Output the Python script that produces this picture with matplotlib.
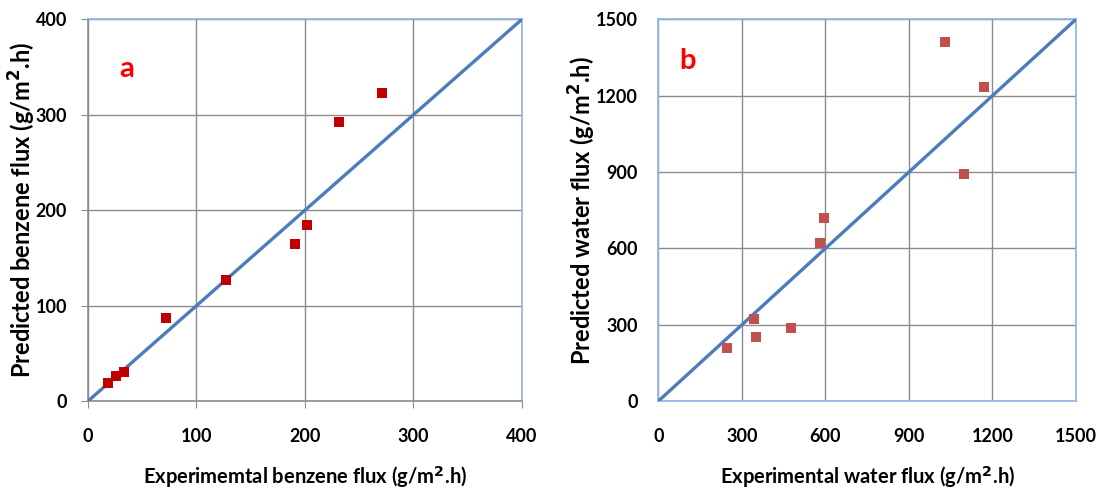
import matplotlib
matplotlib.use("Agg")
import matplotlib.pyplot as plt

# panel a - benzene flux (g/m2.h)
benz_exp = [18, 26, 33, 72, 127, 191, 202, 231, 271]
benz_pred = [19, 26, 30, 87, 127, 165, 184, 292, 323]
benz_ticks = [0, 100, 200, 300, 400]

# panel b - water flux (g/m2.h)
water_exp = [245, 342, 351, 478, 581, 594, 1030, 1097, 1170]
water_pred = [207, 321, 250, 286, 622, 720, 1412, 892, 1234]
water_ticks = [0, 300, 600, 900, 1200, 1500]

plt.rcParams['font.family'] = ['Lato', 'DejaVu Sans']
plt.rcParams['font.weight'] = 'bold'

fig = plt.figure(figsize=(11, 4.88), dpi=100)
ax1 = fig.add_axes([0.08, 0.178, 0.3945, 0.7825])
ax2 = fig.add_axes([0.5985, 0.178, 0.3797, 0.7825])


def style(ax, ticks, xlabel, ylabel, tag, tag_xy, pts, color, outticks, ylab_x):
    lim = ticks[-1]
    ax.plot([0, lim], [0, lim], color='#4a7ebb', lw=2.4, zorder=3)
    ax.scatter(pts[0], pts[1], marker='s', s=60, color=color, zorder=4, linewidths=0)
    ax.set_xlim(0, lim)
    ax.set_ylim(0, lim)
    ax.set_xticks(ticks)
    ax.set_yticks(ticks)
    ax.grid(True, color='#8c8c8c', lw=1)
    ax.set_axisbelow(True)
    for s in ax.spines.values():
        s.set_color('#8eb4e3')
        s.set_linewidth(1.2)
    ax.tick_params(labelsize=13, length=5 if outticks else 0, color='#8c8c8c')
    ax.tick_params(axis='x', pad=14 if outticks else 19)
    ax.tick_params(axis='y', pad=10 if outticks else 15)
    for lb in ax.get_xticklabels() + ax.get_yticklabels():
        lb.set_fontweight('bold')
    ax.set_xlabel(xlabel, fontsize=14.5, fontweight='bold', labelpad=14)
    ax.set_ylabel(ylabel, fontsize=17, fontweight='bold', va='center')
    ax.yaxis.set_label_coords(ylab_x, 0.5)
    ax.text(tag_xy[0], tag_xy[1], tag, transform=ax.transAxes, color='red',
            fontsize=21, fontweight='bold', ha='center', va='center')


style(ax1, benz_ticks, 'Experimemtal benzene flux (g/m$^2$.h)',
      'Predicted benzene flux (g/m$^2$.h)', 'a', (0.09, 0.87),
      (benz_exp, benz_pred), '#c00000', True, -0.152)
ax1.spines['left'].set_color('#8c8c8c')
ax1.spines['bottom'].set_color('#8c8c8c')

style(ax2, water_ticks, 'Experimental water flux (g/m$^2$.h)',
      'Predicted water flux (g/m$^2$.h)', 'b', (0.07, 0.89),
      (water_exp, water_pred), '#c0504d', False, -0.182)

fig.savefig('out.png', dpi=100)
